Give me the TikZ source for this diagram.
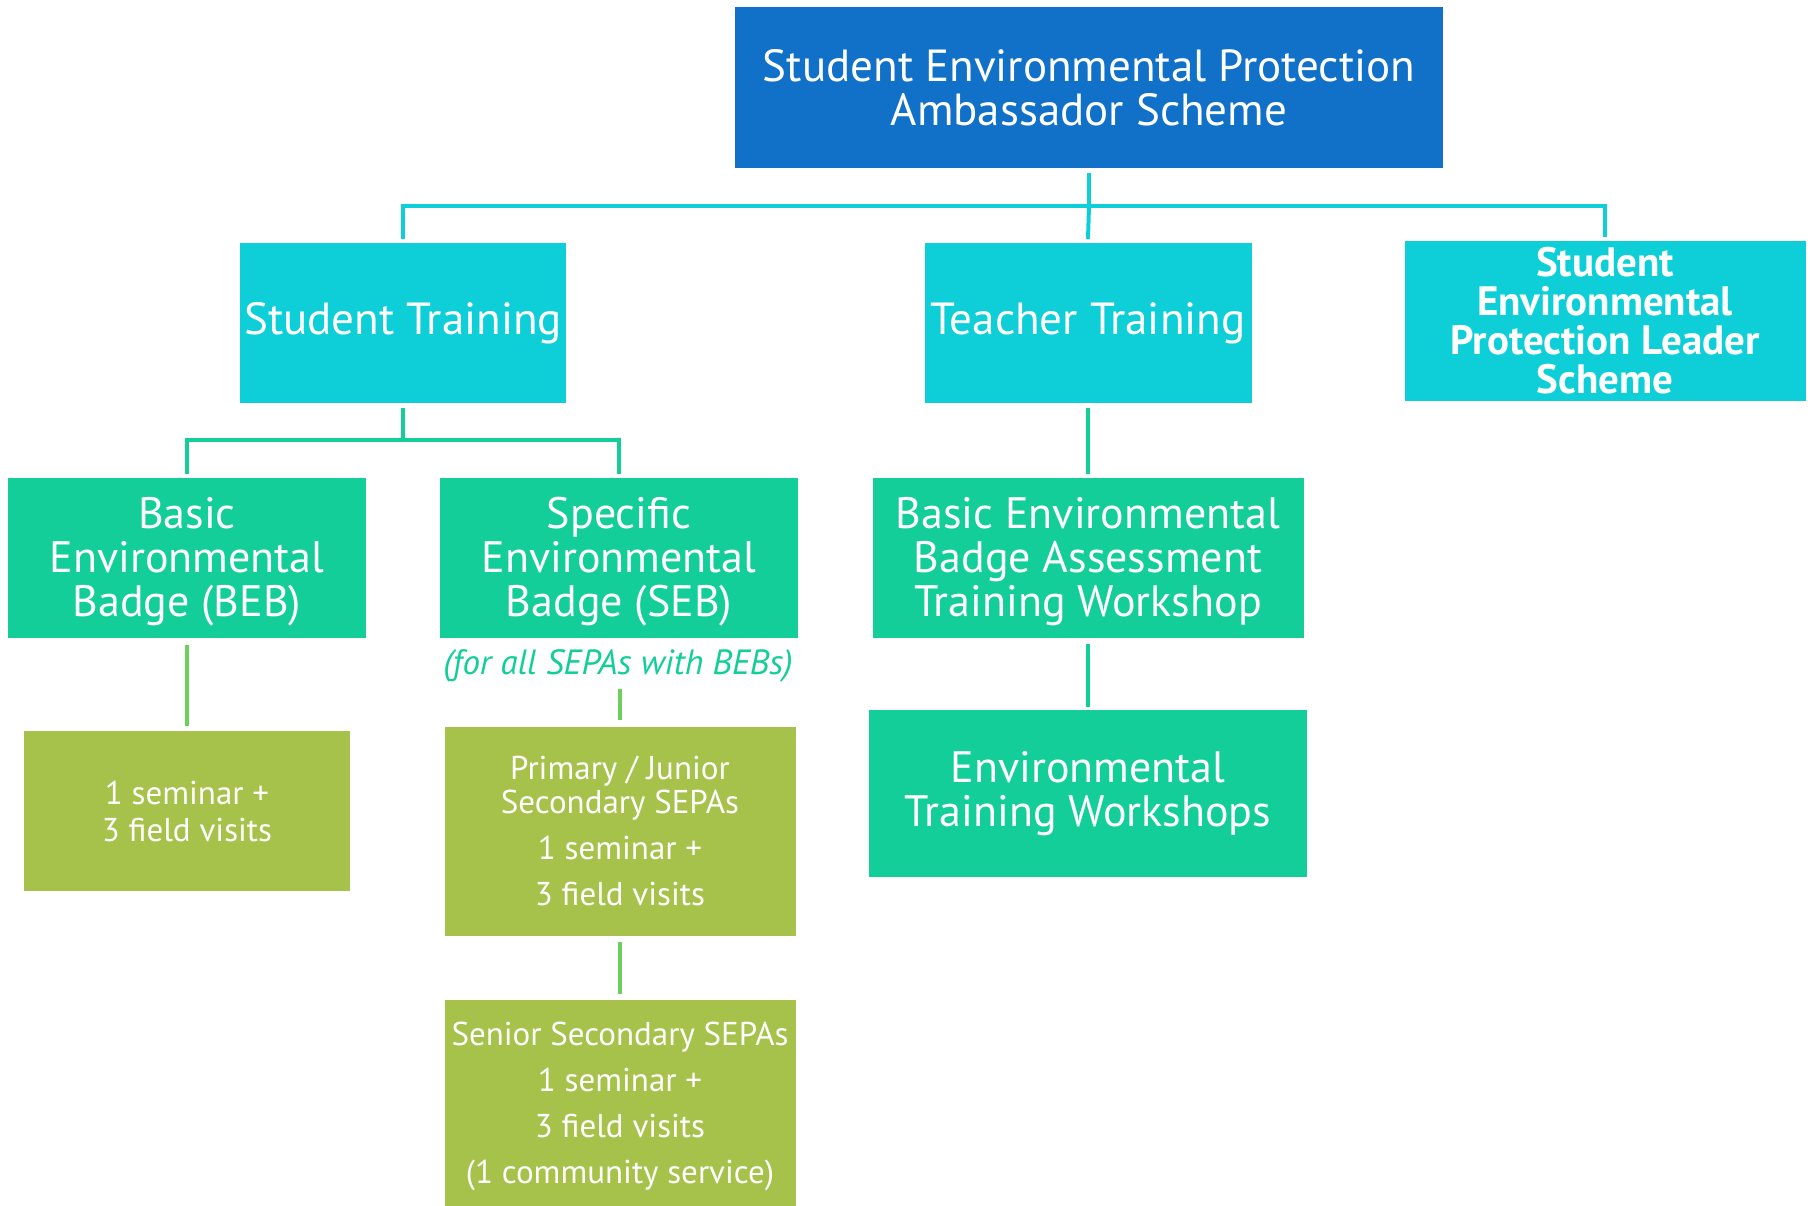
\documentclass[tikz,border=0pt]{standalone}
\usepackage{fontspec}
\setmainfont{PT Sans}
\definecolor{topblue}{RGB}{17,112,199}
\definecolor{cyanbox}{RGB}{14,207,216}
\definecolor{tealbox}{RGB}{19,206,152}
\definecolor{olivebox}{RGB}{166,194,74}
\definecolor{lightline}{RGB}{108,209,92}
\begin{document}
\begin{tikzpicture}[x=1pt,y=-1pt,
  box/.style={draw=none,rectangle,inner sep=0pt,align=center,text=white},
  topbox/.style={box,fill=topblue,font=\fontsize{45}{44}\selectfont},
  cybox/.style={box,fill=cyanbox,font=\fontsize{45}{45}\selectfont},
  tlbox/.style={box,fill=tealbox,font=\fontsize{44}{44}\selectfont},
  olbox/.style={box,fill=olivebox,font=\fontsize{33}{34}\selectfont},
  link/.style={line width=4pt},
  cyline/.style={link,draw=cyanbox},
  tlline/.style={link,draw=tealbox},
  ltline/.style={link,draw=lightline}]
\useasboundingbox (0,0) rectangle (1812,1205);
\begin{scope}
\clip (0,0) rectangle (1812,1205);
% level 0
\node[topbox,minimum width=708pt,minimum height=161pt] (top) at (1089,87.5) {Student Environmental Protection\\Ambassador Scheme};
% level 1
\node[cybox,minimum width=326pt,minimum height=160pt] (st) at (403,323) {Student Training};
\node[cybox,minimum width=327pt,minimum height=160pt] (tt) at (1088,323) {Teacher Training};
\node[cybox,minimum width=401pt,minimum height=160pt,font=\bfseries\fontsize{41}{39}\selectfont] (lead) at (1605,321) {Student\\Environmental\\Protection Leader\\Scheme};
% level 2
\node[tlbox,minimum width=358pt,minimum height=160pt,text depth=3pt] (beb) at (187,558) {Basic\\Environmental\\Badge (BEB)};
\node[tlbox,minimum width=358pt,minimum height=160pt,text depth=3pt] (seb) at (619,558) {Specific\\Environmental\\Badge (SEB)};
\node[tlbox,minimum width=431pt,minimum height=160pt,text depth=3pt] (bat) at (1088,558) {Basic Environmental\\Badge Assessment\\Training Workshop};
\node[text=tealbox,font=\itshape\fontsize{35}{35}\selectfont,inner sep=0pt] (note) at (618,666) {(for all SEPAs with BEBs)};
% level 3
\node[olbox,minimum width=326pt,minimum height=160pt,font=\fontsize{33}{37}\selectfont] (bebc) at (187,811) {1 seminar +\\3 field visits};
\node[olbox,minimum width=351pt,minimum height=209pt] (pj) at (620,831) {Primary / Junior\\Secondary SEPAs\\[12pt]1 seminar +\\[12pt]3 field visits};
\node[tlbox,minimum width=438pt,minimum height=167pt] (etw) at (1088,793.5) {Environmental\\Training Workshops};
% level 4
\node[olbox,minimum width=351pt,minimum height=212pt] (sen) at (620,1106) {Senior Secondary SEPAs\\[12pt]1 seminar +\\[12pt]3 field visits\\[12pt](1 community service)};
\end{scope}
% connectors
\coordinate (hb) at (0,206);
\coordinate (hs) at (0,440);
\draw[cyline] ([yshift=-5pt]top.south) -- (top.south |- hb);
\draw[cyline] ([yshift=4pt]st.north) -- (st.north |- hb) -- (lead.north |- hb) -- ([yshift=4pt]lead.north);
\draw[cyline] (top.south |- hb) -- ([yshift=4pt]tt.north);
\draw[tlline] ([yshift=-5pt]st.south) -- (st.south |- hs);
\draw[tlline] ([yshift=4pt]beb.north) -- (beb.north |- hs) -- (seb.north |- hs) -- ([yshift=4pt]seb.north);
\draw[ltline] ([yshift=-7pt]beb.south) -- ([yshift=5pt]bebc.north);
\draw[ltline] ([yshift=-6pt]note.south -| pj.north) -- ([yshift=6pt]pj.north);
\draw[ltline] ([yshift=-6pt]pj.south) -- ([yshift=6pt]sen.north);
\draw[tlline] ([yshift=-5pt]tt.south) -- ([yshift=4pt]bat.north);
\draw[tlline] ([yshift=-6pt]bat.south) -- ([yshift=3pt]etw.north);
\end{tikzpicture}
\end{document}
